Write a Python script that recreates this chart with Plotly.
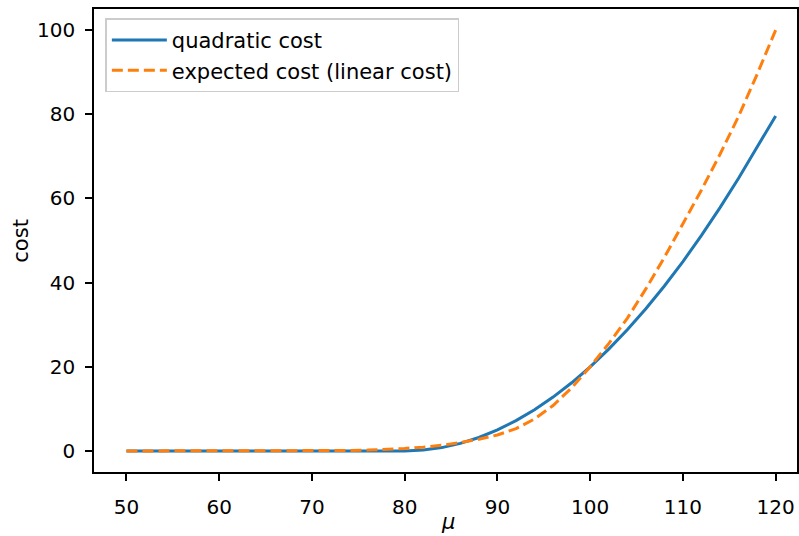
import plotly.graph_objects as go

# mean level mu, sampled every 2 units
mu = list(range(50, 121, 2))

# quadratic cost curve
quadratic_cost = [0] * 16 + [
    0.2, 0.8, 1.8, 3.2, 5.0, 7.2, 9.8, 12.8, 16.2, 20.0,
    24.2, 28.8, 33.8, 39.2, 45.0, 51.2, 57.8, 64.8, 72.2, 79.6,
]

# expected cost under a linear cost
expected_cost = [0] * 10 + [
    0.02, 0.05, 0.1, 0.2, 0.35, 0.6, 0.9, 1.35, 2.0, 2.8,
    3.8, 5.3, 7.6, 10.8, 15.0, 20.0, 25.5, 31.5, 38.5, 46.0,
    54.0, 62.0, 70.5, 79.5, 89.5, 100.0,
]

x_ticks = [50, 60, 70, 80, 90, 100, 110, 120]
y_ticks = [0, 20, 40, 60, 80, 100]

FONT = "DejaVu Sans"

fig = go.Figure()
fig.add_trace(go.Scatter(
    x=mu, y=quadratic_cost, mode="lines", name="quadratic cost",
    line=dict(color="#1f77b4", width=3),
))
fig.add_trace(go.Scatter(
    x=mu, y=expected_cost, mode="lines", name="expected cost (linear cost)",
    line=dict(color="#ff7f0e", width=3, dash="11px,5px"),
))

axis_common = dict(
    showline=True, linecolor="black", linewidth=1.6, mirror=True,
    ticks="outside", ticklen=7, tickwidth=1.6, tickcolor="black",
    showgrid=False, zeroline=False, automargin=False,
    tickfont=dict(family=FONT, size=20, color="black"),
)

fig.update_xaxes(range=[46.5, 122.3], tickvals=x_ticks, ticklabelstandoff=9, **axis_common)
fig.update_yaxes(range=[-5, 105], tickvals=y_ticks, ticklabelstandoff=6, **axis_common)

# axis titles
fig.add_annotation(
    text="<i>μ</i>", xref="paper", yref="paper", x=0.5035, y=-0.108,
    xanchor="center", yanchor="middle", showarrow=False,
    font=dict(family=FONT, size=21, color="black"),
)
fig.add_annotation(
    text="cost", xref="paper", yref="paper", x=-0.105, y=0.5,
    xanchor="center", yanchor="middle", textangle=-90, showarrow=False,
    font=dict(family=FONT, size=21, color="black"),
)

fig.update_layout(
    width=799, height=536,
    margin=dict(l=94, r=2, t=9, b=64),
    plot_bgcolor="white", paper_bgcolor="white",
    font=dict(family=FONT, size=20, color="black"),
    legend=dict(
        x=0.016, y=0.98, xanchor="left", yanchor="top",
        bgcolor="rgba(255,255,255,0.8)", bordercolor="#cccccc", borderwidth=1.6,
        font=dict(family=FONT, size=21, color="black"),
        itemwidth=55, tracegroupgap=0,
    ),
)

fig.write_html("out.html")
